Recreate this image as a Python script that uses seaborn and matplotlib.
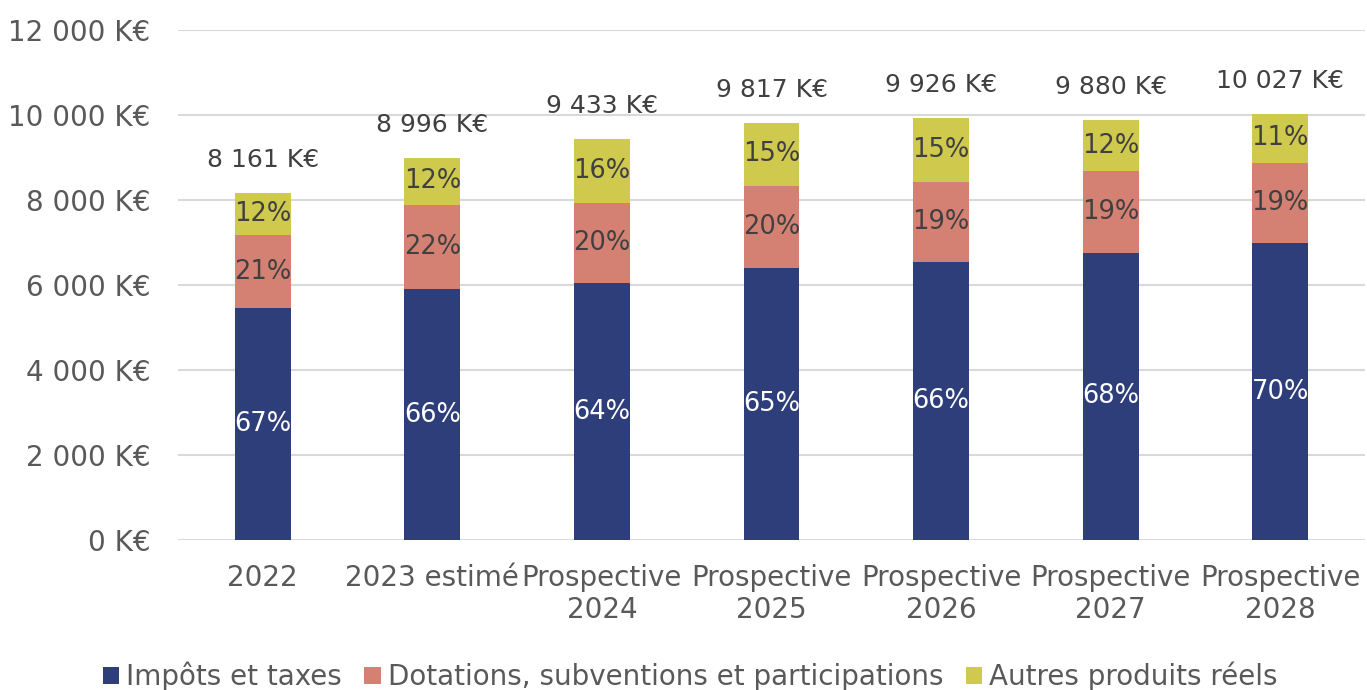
import pandas as pd
import numpy as np
import matplotlib.pyplot as plt
import seaborn as sns

# Data (K€)
categories = ["2022", "2023 estimé", "Prospective\n2024", "Prospective\n2025",
              "Prospective\n2026", "Prospective\n2027", "Prospective\n2028"]
impots = [5460, 5900, 6040, 6400, 6530, 6760, 6980]
dotations = [1710, 1990, 1880, 1930, 1890, 1915, 1900]
autres = [991, 1106, 1513, 1487, 1506, 1205, 1147]
series_names = ["Impôts et taxes", "Dotations, subventions et participations", "Autres produits réels"]
colors = ["#2E3E7B", "#D48174", "#CFC94D"]
yticks = [0, 2000, 4000, 6000, 8000, 10000, 12000]

def fmt_k(v):
    return f"{v:,.0f}".replace(",", " ") + " K€"

df = pd.DataFrame({"cat": categories, "impots": impots, "dotations": dotations, "autres": autres})
df["total"] = df["impots"] + df["dotations"] + df["autres"]

sns.set_theme(style="white")
plt.rcParams["font.family"] = ["DejaVu Sans"]

fig = plt.figure(figsize=(13.67, 6.9), dpi=100)
ax = fig.add_axes([178 / 1367, 150 / 690, 1187 / 1367, 510 / 690])

bottoms = np.zeros(len(df))
for col, name, c in zip(["impots", "dotations", "autres"], series_names, colors):
    sns.barplot(data=df, x="cat", y=col, bottom=bottoms, color=c, width=0.33,
                label=name, ax=ax, saturation=1, linewidth=0, zorder=3)
    for i, (v, b, t) in enumerate(zip(df[col], bottoms, df["total"])):
        pct = f"{round(100 * v / t):.0f}%"
        ax.text(i, b + v / 2, pct, ha="center", va="center", fontsize=18.5,
                color="white" if col == "impots" else "#404040", zorder=4)
    bottoms = bottoms + df[col].values

for i, t in enumerate(df["total"]):
    ax.annotate(fmt_k(t), (i, t), xytext=(0, 15), textcoords="offset points",
                ha="center", va="bottom", fontsize=18, color="#404040")

ax.set_ylim(0, 12000)
ax.set_xlim(-0.5, len(df) - 0.5)
ax.set_yticks(yticks)
ax.set_yticklabels([fmt_k(v) for v in yticks], fontsize=20, color="#595959")
ax.tick_params(axis="x", labelsize=20, labelcolor="#595959", pad=17, length=0)
ax.tick_params(axis="y", pad=20, length=0)
ax.set_xlabel("")
ax.set_ylabel("")
ax.yaxis.grid(True, color="#D9D9D9", linewidth=1.5, zorder=0)
for s in ax.spines.values():
    s.set_visible(False)

handles, labels = ax.get_legend_handles_labels()
fig.legend(handles, labels, loc="lower center", bbox_to_anchor=(0.505, -0.038), ncol=3,
           frameon=False, fontsize=20, handlelength=0.6, handleheight=0.6,
           handletextpad=0.25, columnspacing=0.8, labelcolor="#595959")
if ax.get_legend():
    ax.get_legend().remove()

fig.savefig("out.png", dpi=100)
